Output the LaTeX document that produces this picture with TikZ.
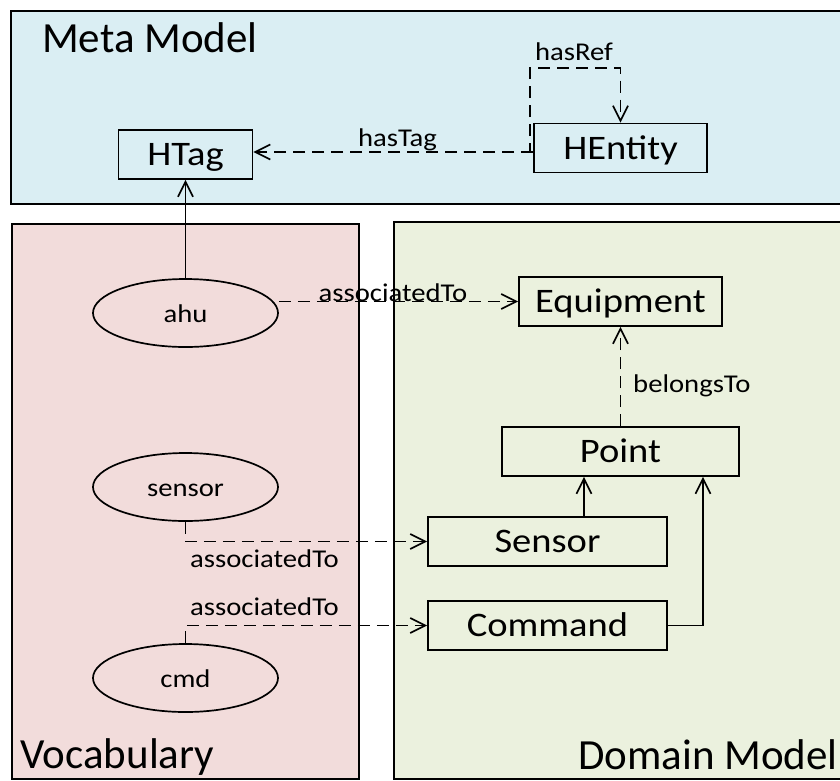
\documentclass[tikz,border=0pt]{standalone}
\usepackage{fontspec}
\setmainfont{Carlito}[FakeStretch=1.12]
\newfontfamily\titlefont{Carlito}
\usetikzlibrary{arrows.meta,shapes.geometric}
\definecolor{metafill}{HTML}{DAEEF3}
\definecolor{vocfill}{HTML}{F2DCDB}
\definecolor{domfill}{HTML}{EBF1DE}
\tikzset{
  container/.style={draw=black, line width=1.9pt},
  classbox/.style={draw, rectangle, line width=1.8pt, inner sep=0pt, minimum height=49pt,
    text height=22pt, text depth=0pt, font=\fontsize{34.4}{36}\selectfont},
  tagell/.style={draw, ellipse, line width=1.7pt, fill=vocfill, inner sep=0pt,
    minimum width=185pt, minimum height=68pt, text height=18pt, text depth=0pt,
    font=\fontsize{25.6}{28}\selectfont},
  titletext/.style={inner sep=0pt, font=\titlefont\fontsize{43}{45}\selectfont},
  lbl/.style={inner sep=0pt, font=\fontsize{25.6}{28}\selectfont},
  conn/.style={line width=1.7pt, -{Straight Barb[length=15pt,width=15pt]}},
  dconn/.style={conn, dash pattern=on 12pt off 7pt},
}
\begin{document}
\begin{tikzpicture}[x=1pt,y=-1pt]
\useasboundingbox (0,0) rectangle (840,780);
\fill[white] (0,0) rectangle (840,780);
\clip (0,0) rectangle (840,780);
% containers
\draw[container, fill=metafill] (11,11) rectangle (870,204);
\draw[container, fill=vocfill] (12,224) rectangle (359,779);
\draw[container, fill=domfill] (394,222) rectangle (870,779);
% titles
\node[titletext, anchor=base west] (tmeta) at (42,52) {Meta Model};
\node[titletext, anchor=base west] (tvoc) at (20,768) {Vocabulary};
\node[titletext, anchor=base east] (tdom) at (838,769) {Domain Model};
% meta model
\node[classbox, fill=metafill, minimum width=134pt] (HTag) at (185.5,154.5) {HTag};
\node[classbox, fill=metafill, minimum width=173pt] (HEntity) at (620.5,148) {HEntity};
\coordinate (tagY) at (0,152);
\coordinate (refTop) at (0,68);
% vocabulary
\node[tagell] (ahu) at (185.5,313) {ahu};
\node[tagell] (sensorv) at (185.5,487) {sensor};
\node[tagell] (cmdv) at (185.5,678) {cmd};
% domain model
\node[classbox, fill=domfill, minimum width=203pt] (Equipment) at (620.5,301.5) {Equipment};
\node[classbox, fill=domfill, minimum width=237pt] (Point) at (620.5,451.5) {Point};
\node[classbox, fill=domfill, minimum width=239pt] (Sensor) at (547.5,541.5) {Sensor};
\node[classbox, fill=domfill, minimum width=239pt] (Command) at (547.5,625.5) {Command};
% connectors
\draw[dconn] (HEntity.west |- tagY) -- (HTag.east |- tagY);
\draw[dconn] (HEntity.west |- tagY) -- ++(-3,0) |- (refTop -| HEntity.north) -- (HEntity.north);
\draw[conn] (ahu.north) -- (HTag.south);
\draw[dconn] (Equipment.west -| ahu.east) -- (Equipment.west);
\draw[dconn] (Point.north) -- (Equipment.south);
\draw[dconn] (sensorv.south) |- (Sensor.west);
\draw[dconn] (cmdv.north) |- (Command.west);
\draw[conn] ([xshift=36.5pt]Sensor.north) -- ([xshift=36.5pt]Sensor.north |- Point.south);
\draw[conn] (Command.east) -| ([xshift=82.5pt]Point.south);
% labels
\node[lbl, anchor=base] (lhasTag) at (397.5,146) {hasTag};
\node[lbl, anchor=base] (lhasRef) at (574,60) {hasRef};
\node[lbl, anchor=base] (lassoc1) at (393,301) {associatedTo};
\node[lbl, anchor=base west] (lbelongs) at (633,392) {belongsTo};
\node[lbl, anchor=base west] (lassoc2) at (190,567) {associatedTo};
\node[lbl, anchor=base west] (lassoc3) at (190,615) {associatedTo};
\end{tikzpicture}
\end{document}
